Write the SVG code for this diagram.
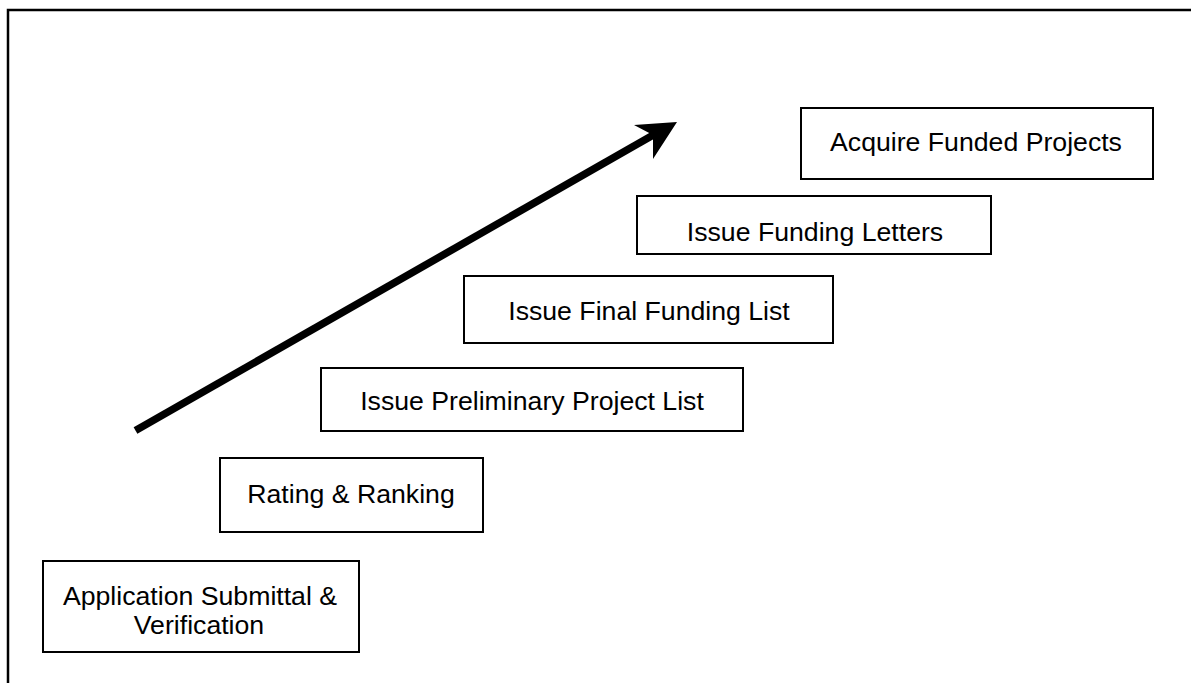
<svg xmlns="http://www.w3.org/2000/svg" width="1191" height="683" viewBox="0 0 1191 683">
<style>
.box{fill:#fff;stroke:#000;stroke-width:2}
.lbl{font-family:"Liberation Sans",Arial,sans-serif;font-size:26.67px;fill:#000;text-anchor:middle}
.frame{stroke:#000;stroke-width:2.5;fill:none}
</style>
<path class="frame" d="M8 683 V10 H1191"/>
<g id="connectors">
<line x1="135.5" y1="430.5" x2="655" y2="134" stroke="#000" stroke-width="7.5"/>
<polygon points="677,122 634,125 653,135 653,159" fill="#000"/>
</g>
<g id="n1"><rect class="box" x="43" y="561" width="316" height="91"/><text class="lbl" x="200" y="605">Application Submittal &amp;</text><text class="lbl" x="199" y="634">Verification</text></g>
<g id="n2"><rect class="box" x="220" y="458" width="263" height="74"/><text class="lbl" x="351" y="503">Rating &amp; Ranking</text></g>
<g id="n3"><rect class="box" x="321" y="368" width="422" height="63"/><text class="lbl" x="532" y="410">Issue Preliminary Project List</text></g>
<g id="n4"><rect class="box" x="464" y="276" width="369" height="67"/><text class="lbl" x="649" y="320">Issue Final Funding List</text></g>
<g id="n5"><rect class="box" x="637" y="196" width="354" height="58"/><text class="lbl" x="815" y="241">Issue Funding Letters</text></g>
<g id="n6"><rect class="box" x="801" y="108" width="352" height="71"/><text class="lbl" x="976" y="151">Acquire Funded Projects</text></g>
</svg>
